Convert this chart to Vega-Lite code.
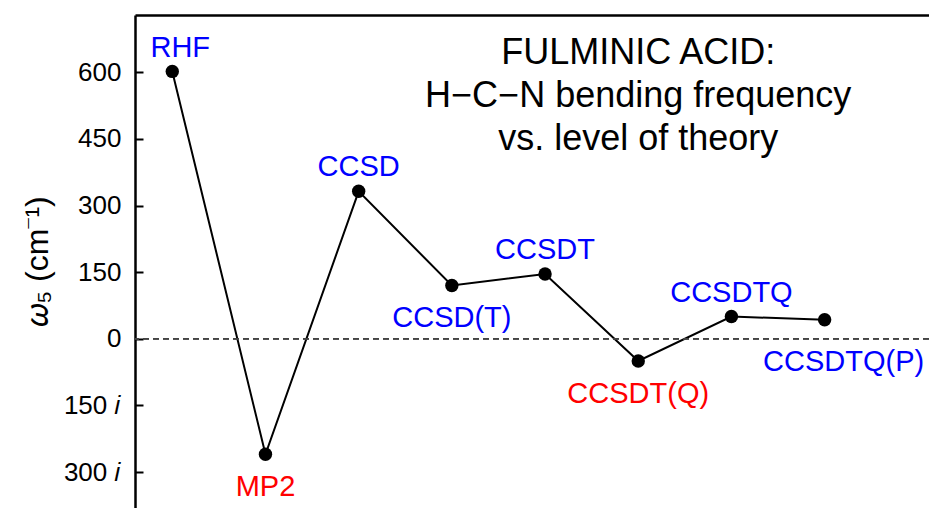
{
  "$schema": "https://vega.github.io/schema/vega-lite/v6.json",
  "width": 794,
  "height": 493,
  "autosize": {"type": "none"},
  "padding": {"left": 135, "top": 15, "right": 0, "bottom": 0},
  "config": {"view": {"stroke": null}, "font": "Liberation Sans"},
  "datasets": {
    "levels": [
      {"method": "RHF", "idx": 0, "freq": 602, "pos": "above"},
      {"method": "MP2", "idx": 1, "freq": -260, "pos": "below"},
      {"method": "CCSD", "idx": 2, "freq": 332, "pos": "above"},
      {"method": "CCSD(T)", "idx": 3, "freq": 120, "pos": "below"},
      {"method": "CCSDT", "idx": 4, "freq": 146, "pos": "above"},
      {"method": "CCSDT(Q)", "idx": 5, "freq": -50, "pos": "below"},
      {"method": "CCSDTQ", "idx": 6, "freq": 50, "pos": "above"},
      {"method": "CCSDTQ(P)", "idx": 7, "freq": 43, "pos": "below"}
    ],
    "note": [
      {"tx": 5.0, "ty": 643}
    ]
  },
  "layer": [
    {
      "data": {"name": "levels"},
      "mark": {"type": "line", "color": "black", "strokeWidth": 2},
      "encoding": {
        "x": {
          "field": "idx",
          "type": "quantitative",
          "scale": {"domain": [-0.4, 8.12], "nice": false, "zero": false},
          "axis": {"orient": "top", "labels": false, "ticks": false, "grid": false, "title": null, "domainWidth": 2.5, "domainColor": "black"}
        },
        "y": {
          "field": "freq",
          "type": "quantitative",
          "scale": {"domain": [-381, 729], "nice": false, "zero": false},
          "axis": {
            "values": [600, 450, 300, 150, 0, -150, -300],
            "labelExpr": "datum.value < 0 ? format(-datum.value, 'd') + ' 𝑖' : format(datum.value, 'd')",
            "labelFontSize": 26,
            "labelColor": "black",
            "labelPadding": 22,
            "ticks": true,
            "tickSize": -8,
            "tickWidth": 2,
            "tickColor": "black",
            "domainWidth": 2.5,
            "domainColor": "black",
            "grid": false,
            "title": "𝜔₅ (cm⁻¹)",
            "titleFontSize": 32,
            "titleFontWeight": "normal",
            "titleColor": "black",
            "titleAngle": -90,
            "titleX": -98,
            "titleY": 246,
            "titleBaseline": "middle",
            "titleAlign": "center"
          }
        }
      }
    },
    {
      "data": {"name": "levels"},
      "mark": {"type": "rule", "strokeDash": [6, 4], "color": "#444444", "strokeWidth": 1},
      "encoding": {"y": {"datum": 0, "type": "quantitative"}}
    },
    {
      "data": {"name": "levels"},
      "mark": {"type": "point", "shape": "circle", "filled": true, "color": "black", "opacity": 1, "size": 180},
      "encoding": {
        "x": {"field": "idx", "type": "quantitative"},
        "y": {"field": "freq", "type": "quantitative"}
      }
    },
    {
      "data": {"name": "levels"},
      "transform": [{"filter": "datum.pos == 'above' && datum.method != 'RHF'"}],
      "mark": {"type": "text", "fontSize": 29, "baseline": "alphabetic", "align": "center", "dy": -15},
      "encoding": {
        "x": {"field": "idx", "type": "quantitative"},
        "y": {"field": "freq", "type": "quantitative"},
        "text": {"field": "method"},
        "color": {"condition": {"test": "datum.freq < 0", "value": "#ff0000"}, "value": "#0000ff"}
      }
    },
    {
      "data": {"name": "levels"},
      "transform": [{"filter": "datum.method == 'RHF'"}],
      "mark": {"type": "text", "fontSize": 29, "baseline": "alphabetic", "align": "center", "dy": -14, "dx": 8},
      "encoding": {
        "x": {"field": "idx", "type": "quantitative"},
        "y": {"field": "freq", "type": "quantitative"},
        "text": {"field": "method"},
        "color": {"condition": {"test": "datum.freq < 0", "value": "#ff0000"}, "value": "#0000ff"}
      }
    },
    {
      "data": {"name": "levels"},
      "transform": [{"filter": "datum.pos == 'below' && datum.method != 'CCSDTQ(P)'"}],
      "mark": {"type": "text", "fontSize": 29, "baseline": "alphabetic", "align": "center", "dy": 42},
      "encoding": {
        "x": {"field": "idx", "type": "quantitative"},
        "y": {"field": "freq", "type": "quantitative"},
        "text": {"field": "method"},
        "color": {"condition": {"test": "datum.freq < 0", "value": "#ff0000"}, "value": "#0000ff"}
      }
    },
    {
      "data": {"name": "levels"},
      "transform": [{"filter": "datum.method == 'CCSDTQ(P)'"}],
      "mark": {"type": "text", "fontSize": 29, "baseline": "alphabetic", "align": "center", "dy": 51, "dx": 19},
      "encoding": {
        "x": {"field": "idx", "type": "quantitative"},
        "y": {"field": "freq", "type": "quantitative"},
        "text": {"field": "method"},
        "color": {"condition": {"test": "datum.freq < 0", "value": "#ff0000"}, "value": "#0000ff"}
      }
    },
    {
      "data": {"name": "note"},
      "mark": {"type": "text", "fontSize": 36, "align": "center", "baseline": "middle", "lineHeight": 43, "color": "black",
               "text": ["FULMINIC ACID:", "H−C−N bending frequency", "vs. level of theory"]},
      "encoding": {
        "x": {"field": "tx", "type": "quantitative"},
        "y": {"field": "ty", "type": "quantitative"}
      }
    }
  ]
}
